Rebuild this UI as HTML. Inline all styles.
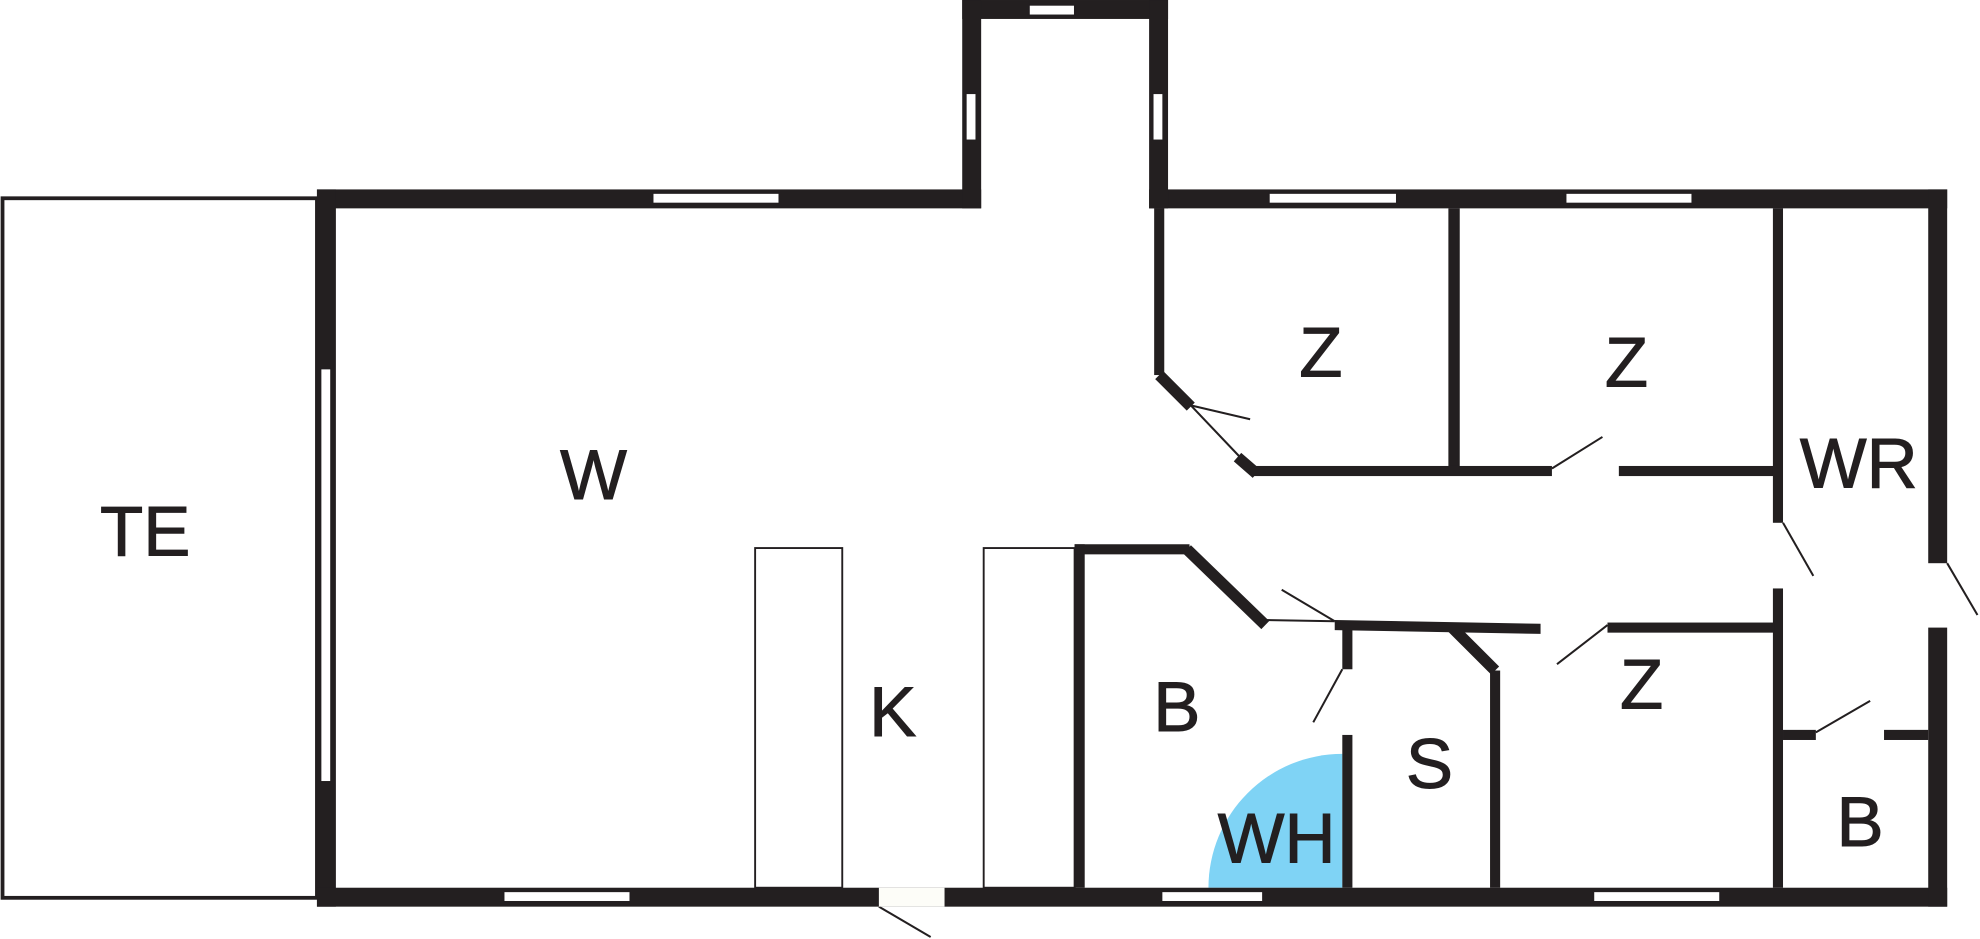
<!DOCTYPE html>
<html><head><style>html,body{margin:0;padding:0;background:#fff}svg{display:block}</style></head>
<body>
<svg width="1980" height="939" viewBox="0 0 1568 743.6" xmlns="http://www.w3.org/2000/svg">
<rect width="1568" height="744" fill="#fff"/>
<!-- TE -->
<rect x="2" y="157" width="249" height="554" fill="none" stroke="#231f20" stroke-width="3"/>
<!-- WH -->
<path d="M957,703 A106,106 0 0 1 1063,597 L1063,703 Z" fill="#7fd3f5"/>
<g fill="#231f20">
<!-- exterior -->
<rect x="251" y="150" width="526" height="15"/>
<rect x="910" y="150" width="632" height="15"/>
<rect x="762" y="0" width="163" height="15"/>
<rect x="762" y="0" width="15" height="165"/>
<rect x="910" y="0" width="15" height="165"/>
<rect x="251" y="150" width="15" height="568"/>
<rect x="251" y="703" width="1291" height="15"/>
<rect x="1527" y="150" width="15" height="296"/>
<rect x="1527" y="497" width="15" height="221"/>
<!-- interior -->
<rect x="914" y="165" width="8" height="132"/>
<rect x="1147" y="165" width="9" height="210"/>
<rect x="993" y="369" width="236" height="8"/>
<rect x="1282" y="369" width="123" height="8"/>
<rect x="1404" y="165" width="8" height="249"/>
<rect x="1404" y="466" width="8" height="237"/>
<rect x="1273" y="493" width="132" height="8"/>
<rect x="851" y="431" width="8" height="272"/>
<rect x="851" y="431" width="91" height="8"/>
<rect x="1063" y="494" width="8" height="36"/>
<rect x="1063" y="582" width="8" height="121"/>
<rect x="1180" y="531" width="8" height="172"/>
<rect x="1412" y="578" width="26" height="8"/>
<rect x="1492" y="578" width="35" height="8"/>
<polygon points="1057,491 1220,494 1220,502 1057,499"/>
</g>
<g stroke="#231f20" fill="none">
<polyline points="918,297 943,322" stroke-width="9"/>
<polyline points="980,362 995,375" stroke-width="9"/>
<polyline points="940,435 1002,495" stroke-width="9"/>
<polyline points="1150,497 1184,531" stroke-width="9"/>
<!-- swings -->
<g stroke-width="1.6">
<line x1="943" y1="321" x2="990" y2="332"/>
<line x1="943" y1="321" x2="982" y2="362"/>
<line x1="1229" y1="371" x2="1269" y2="346"/>
<line x1="1412" y1="414" x2="1436" y2="456"/>
<line x1="1273" y1="495" x2="1233" y2="526"/>
<line x1="1057" y1="492" x2="1015" y2="467"/>
<line x1="1002" y1="491" x2="1057" y2="492"/>
<line x1="1063" y1="530" x2="1040" y2="572"/>
<line x1="1438" y1="580" x2="1481" y2="555"/>
<line x1="1542" y1="446" x2="1566" y2="487"/>
<line x1="696" y1="718" x2="737" y2="742"/>
</g>
<!-- kitchen -->
<rect x="598" y="434" width="69" height="269" stroke-width="1.5"/>
<rect x="779" y="434" width="72" height="269" stroke-width="1.5"/>
</g>
<!-- windows -->
<g fill="#fff" stroke="#231f20" stroke-width="1">
<rect x="517" y="153" width="100" height="8"/>
<rect x="1005" y="153" width="101" height="8"/>
<rect x="1240" y="153" width="100" height="8"/>
<rect x="815" y="4" width="36" height="8"/>
<rect x="765" y="74" width="8" height="37"/>
<rect x="913" y="74" width="8" height="37"/>
<rect x="254" y="292" width="8" height="327"/>
<rect x="399" y="706" width="100" height="8"/>
<rect x="920" y="706" width="80" height="8"/>
<rect x="1262" y="706" width="100" height="8"/>
</g>
<rect x="696" y="703" width="52" height="15" fill="#fdfdf8"/>
<g font-family="Liberation Sans, sans-serif" font-size="56" fill="#231f20" stroke="#231f20" stroke-width="0.8" text-anchor="middle">
<text x="115" y="440">TE</text>
<text x="470" y="395">W</text>
<text x="1046" y="298">Z</text>
<text x="1288" y="306">Z</text>
<text x="1472" y="386">WR</text>
<text x="707" y="583">K</text>
<text x="932" y="579">B</text>
<text x="1132" y="624">S</text>
<text x="1011" y="683">WH</text>
<text x="1300" y="561">Z</text>
<text x="1473" y="670">B</text>
</g>
</svg>
</body></html>
